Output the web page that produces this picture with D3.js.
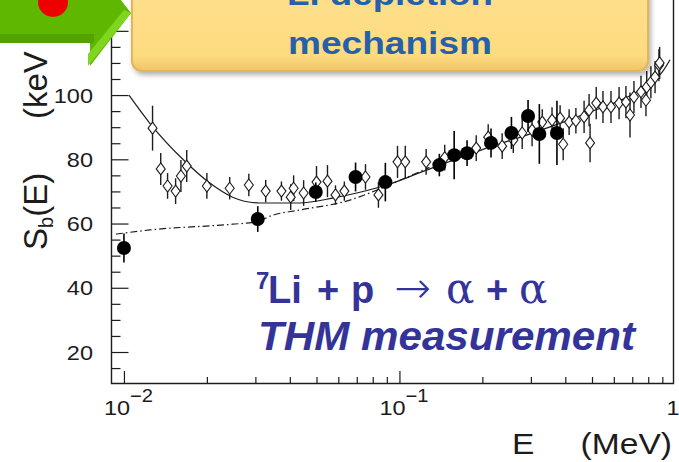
<!DOCTYPE html>
<html>
<head>
<meta charset="utf-8">
<script src="https://cdnjs.cloudflare.com/ajax/libs/d3/7.8.5/d3.min.js"></script>
<style>
  html, body { margin: 0; padding: 0; background: #fff; overflow: hidden; }
  svg { display: block; }
</style>
</head>
<body>
<div id="chart"></div>
<script>
// THM data (filled circles): energy (MeV), S-factor (keV b), error
const thmE   = [0.0100, 0.0306, 0.0497, 0.0693, 0.0889, 0.1396, 0.158, 0.176, 0.215, 0.255, 0.293, 0.322, 0.373];
const thmS   = [52.4, 61.4, 69.8, 74.5, 72.9, 78.2, 81.3, 81.9, 85.1, 88.2, 93.5, 87.9, 88.2];
const thmErr = [4.5, 4, 3, 4.5, 6, 3.5, 7.5, 4, 4.5, 5, 5, 9.3, 10];

// direct data (open diamonds)
const dirE = [0.0127, 0.0136, 0.0144, 0.0154, 0.0161, 0.0169, 0.0200, 0.0242, 0.0284, 0.0327,
  0.0373, 0.0403, 0.0413, 0.0449, 0.0500, 0.0548, 0.0586, 0.0631, 0.0753, 0.0839,
  0.0984, 0.105, 0.125, 0.146, 0.190, 0.210, 0.236, 0.259, 0.279, 0.303,
  0.330, 0.358, 0.383, 0.393, 0.413, 0.437, 0.468, 0.488, 0.492, 0.518,
  0.548, 0.586, 0.627, 0.664, 0.687, 0.710, 0.753, 0.785, 0.790, 0.818,
  0.847, 0.875, 0.880];
const dirS = [89.7, 77.0, 71.7, 70.1, 74.8, 77.9, 71.7, 71.0, 72.0, 70.1,
  70.1, 68.2, 71.0, 69.5, 72.9, 73.2, 68.9, 70.1, 74.5, 68.9,
  79.2, 79.2, 79.2, 80.5, 83.5, 86.9, 84.1, 86.0, 88.2, 89.1,
  91.6, 92.2, 92.8, 84.7, 91.6, 92.0, 93.2, 95.3, 85.1, 97.5,
  96.3, 96.3, 97.5, 97.8, 93.8, 99.4, 101.0, 98.4, 102.5, 104.0,
  105.6, 109.3, 110.0];
const dirErr = [7, 5, 4, 4, 5, 5, 4, 3.5, 3.5, 3.5,
  3, 4, 4, 4, 5, 5, 3, 3, 4, 4,
  5, 5, 4, 4, 4, 4, 4, 4, 5, 5,
  4, 4, 4, 5, 4, 4, 5, 5, 6, 5,
  5, 5, 5, 5, 7, 5, 5, 5, 5, 5,
  5, 5, 5];

// screened fit (solid) and bare S-factor (dash-dot)
const fitE = [0.01042, 0.0124, 0.01636, 0.0205, 0.0248, 0.0311, 0.0434, 0.0572, 0.070, 0.090,
  0.12, 0.16, 0.20, 0.30, 0.40, 0.50, 0.60, 0.70, 0.80, 0.90, 0.96];
const fitS = [100, 91.3, 80, 72.6, 68.2, 66.4, 66.4, 67.9, 69.5, 72.0,
  76.0, 80.0, 83.0, 88.0, 91.8, 95.0, 97.5, 100.2, 103.2, 107.2, 111];
const bareE = [0.00935, 0.0124, 0.0248, 0.0300, 0.0347, 0.0434, 0.0643, 0.0975, 0.1285];
const bareS = [56.7, 58.0, 59.8, 60.5, 62.6, 64.2, 67.0, 73.0, 77.5];

const yMajor = [20, 40, 60, 80, 100, 120];
const yMinor = [15, 25, 30, 35, 45, 50, 55, 65, 70, 75, 85, 90, 95, 105, 110, 115, 125];
const xMajor = [0.01, 0.1];
const xMinor = [0.02, 0.03, 0.04, 0.05, 0.06, 0.07, 0.08, 0.09, 0.2, 0.3, 0.4, 0.5, 0.6, 0.7, 0.8, 0.9];
const xLabels = [{ v: 0.01, exp: '\u22122' }, { v: 0.1, exp: '\u22121' }];

const W = 679, H = 462;
const svg = d3.select('#chart').append('svg').attr('width', W).attr('height', H);
const defs = svg.append('defs');

const x = d3.scaleLog().domain([0.00905, 0.984]).range([112, 673]);
const y = d3.scaleLinear().domain([10.35, 129.6]).range([383, 0]);

const ink = '#1c1c1c';
const font = 'Liberation Sans, Arial, Helvetica, sans-serif';

// stretched text helper (the picture is widened horizontally)
function sText(parent, px, py, str, size, anchor, sx) {
  const g = parent.append('g').attr('transform', `translate(${px},${py}) scale(${sx},1)`);
  return g.append('text').attr('text-anchor', anchor).attr('font-family', font)
    .attr('font-size', size).attr('fill', ink).text(str);
}

// axes ticks (ROOT style, pointing inward)
function ticks(axis, size, vals, tx, ty) {
  const g = svg.append('g').attr('transform', `translate(${tx},${ty})`)
    .call(axis.tickValues(vals).tickSize(size).tickFormat(''));
  g.select('.domain').remove();
  g.selectAll('line').attr('stroke', ink).attr('stroke-width', 1.2);
}
ticks(d3.axisRight(y), 17, yMajor, 111.5, 0);
ticks(d3.axisRight(y), 9, yMinor, 111.5, 0);
ticks(d3.axisTop(x), 12, xMajor, 0, 383);
ticks(d3.axisTop(x), 6, xMinor, 0, 383);

// frame
svg.append('path').attr('d', `M111.5,-2V383.5H673.5V-2`)
  .attr('fill', 'none').attr('stroke', ink).attr('stroke-width', 1.4);

// y tick labels
yMajor.forEach(v => {
  sText(svg, 93, y(v) + 7.5, String(v), 21, 'end', 1.12);
});

// x tick labels
xLabels.forEach(d => {
  const t = sText(svg, x(d.v) - 20, 415, '', 21, 'start', 1.12);
  t.append('tspan').text('10');
  t.append('tspan').attr('dy', -13).attr('font-size', 18).text(d.exp);
});
sText(svg, 673, 415, '1', 21, 'middle', 1.12);

// axis titles
sText(svg, 512, 454, 'E', 30, 'start', 1.12);
sText(svg, 672, 454, '(MeV)', 30, 'end', 1.12);

const yt = svg.append('text')
  .attr('transform', 'translate(47,250) rotate(-90)')
  .attr('font-family', font).attr('font-size', 33).attr('fill', ink);
yt.append('tspan').text('S');
yt.append('tspan').attr('font-size', 20).attr('dy', 6).text('b');
yt.append('tspan').attr('dy', -6).text('(E)');
yt.append('tspan').attr('x', 131).text('(keV b)');

// curves
const line = d3.line().x(d => x(d[0])).y(d => y(d[1])).curve(d3.curveMonotoneX);
svg.append('path').attr('d', line(d3.zip(bareE, bareS)))
  .attr('fill', 'none').attr('stroke', ink).attr('stroke-width', 1.2)
  .attr('stroke-dasharray', '7,3,1.5,3');
svg.append('path').attr('d', line(d3.zip(fitE, fitS)))
  .attr('fill', 'none').attr('stroke', ink).attr('stroke-width', 1.2);

// open diamonds with error bars
const dirData = dirE.map((e, i) => ({ e, s: dirS[i], err: dirErr[i] }));
svg.append('g').selectAll('line').data(dirData).join('line')
  .attr('x1', d => x(d.e)).attr('x2', d => x(d.e))
  .attr('y1', d => y(d.s + d.err)).attr('y2', d => y(d.s - d.err))
  .attr('stroke', ink).attr('stroke-width', 1.4);
svg.append('g').selectAll('path').data(dirData).join('path')
  .attr('d', d => {
    const cx = x(d.e), cy = y(d.s);
    return `M${cx},${cy - 6}L${cx + 4.5},${cy}L${cx},${cy + 6}L${cx - 4.5},${cy}Z`;
  })
  .attr('fill', '#fff').attr('stroke', ink).attr('stroke-width', 1.1);

// THM filled circles with error bars
const thmData = thmE.map((e, i) => ({ e, s: thmS[i], err: thmErr[i] }));
svg.append('g').selectAll('line').data(thmData).join('line')
  .attr('x1', d => x(d.e)).attr('x2', d => x(d.e))
  .attr('y1', d => y(d.s + d.err)).attr('y2', d => y(d.s - d.err))
  .attr('stroke', '#000').attr('stroke-width', 1.6);
svg.append('g').selectAll('circle').data(thmData).join('circle')
  .attr('cx', d => x(d.e)).attr('cy', d => y(d.s)).attr('r', 7)
  .attr('fill', '#000');

// reaction annotation
const blue = '#333399';
const r1 = svg.append('text').attr('y', 303)
  .attr('font-family', font).attr('font-weight', 'bold').attr('font-size', 38).attr('fill', blue);
r1.append('tspan').attr('x', 256).attr('font-size', 24).attr('dy', -14).text('7');
r1.append('tspan').attr('x', 268).attr('dy', 14).text('Li');
r1.append('tspan').attr('x', 317).text('+');
r1.append('tspan').attr('x', 351).text('p');
r1.append('tspan').attr('x', 394).attr('font-weight', 200)
  .attr('font-family', 'DejaVu Sans, sans-serif').attr('font-size', 44).text('\u2192');
r1.append('tspan').attr('x', 446).attr('font-weight', 'normal')
  .attr('font-family', 'DejaVu Serif, serif').attr('font-size', 42).text('\u03b1');
r1.append('tspan').attr('x', 486).text('+');
r1.append('tspan').attr('x', 519).attr('font-weight', 'normal')
  .attr('font-family', 'DejaVu Serif, serif').attr('font-size', 42).text('\u03b1');

svg.append('text').attr('x', 258).attr('y', 350)
  .attr('font-family', font).attr('font-weight', 'bold').attr('font-style', 'italic')
  .attr('font-size', 40).attr('fill', blue)
  .attr('textLength', 377).attr('lengthAdjust', 'spacingAndGlyphs')
  .text('THM measurement');

// banner
const shadow = defs.append('filter').attr('id', 'shadow').attr('x', '-10%').attr('y', '-10%')
  .attr('width', '130%').attr('height', '140%');
shadow.append('feDropShadow').attr('dx', 2).attr('dy', 3).attr('stdDeviation', 2.5)
  .attr('flood-color', '#000').attr('flood-opacity', 0.3);
const bg = defs.append('linearGradient').attr('id', 'bannerGrad').attr('x1', 0).attr('y1', 0).attr('x2', 0).attr('y2', 1);
bg.append('stop').attr('offset', '0%').attr('stop-color', '#fee08e');
bg.append('stop').attr('offset', '85%').attr('stop-color', '#fddb80');
bg.append('stop').attr('offset', '100%').attr('stop-color', '#f0c466');
svg.append('rect').attr('x', 132).attr('y', -30).attr('width', 516).attr('height', 101).attr('rx', 10)
  .attr('fill', 'url(#bannerGrad)').attr('stroke', '#e2b45c').attr('stroke-width', 2)
  .attr('filter', 'url(#shadow)');
const bannerBlue = '#2660ab';
svg.append('text').attr('x', 287).attr('y', 5)
  .attr('font-family', font).attr('font-weight', 'bold').attr('font-size', 32).attr('fill', bannerBlue)
  .attr('textLength', 206).attr('lengthAdjust', 'spacingAndGlyphs').text('Li depletion');
svg.append('text').attr('x', 288).attr('y', 54)
  .attr('font-family', font).attr('font-weight', 'bold').attr('font-size', 32).attr('fill', bannerBlue)
  .attr('textLength', 204).attr('lengthAdjust', 'spacingAndGlyphs').text('mechanism');

// green arrow with red dot
svg.append('path').attr('d', 'M0,-10H90V-40L131,13L90,66V43H0Z').attr('fill', '#5fb700');
svg.append('path').attr('d', 'M0,34H94V43H0Z').attr('fill', '#53a300');
svg.append('path').attr('d', 'M88,66L131,13L124,10L88,54Z').attr('fill', '#80d51f');
svg.append('circle').attr('cx', 53).attr('cy', 2).attr('r', 15).attr('fill', '#ee0000');
</script>
</body>
</html>
